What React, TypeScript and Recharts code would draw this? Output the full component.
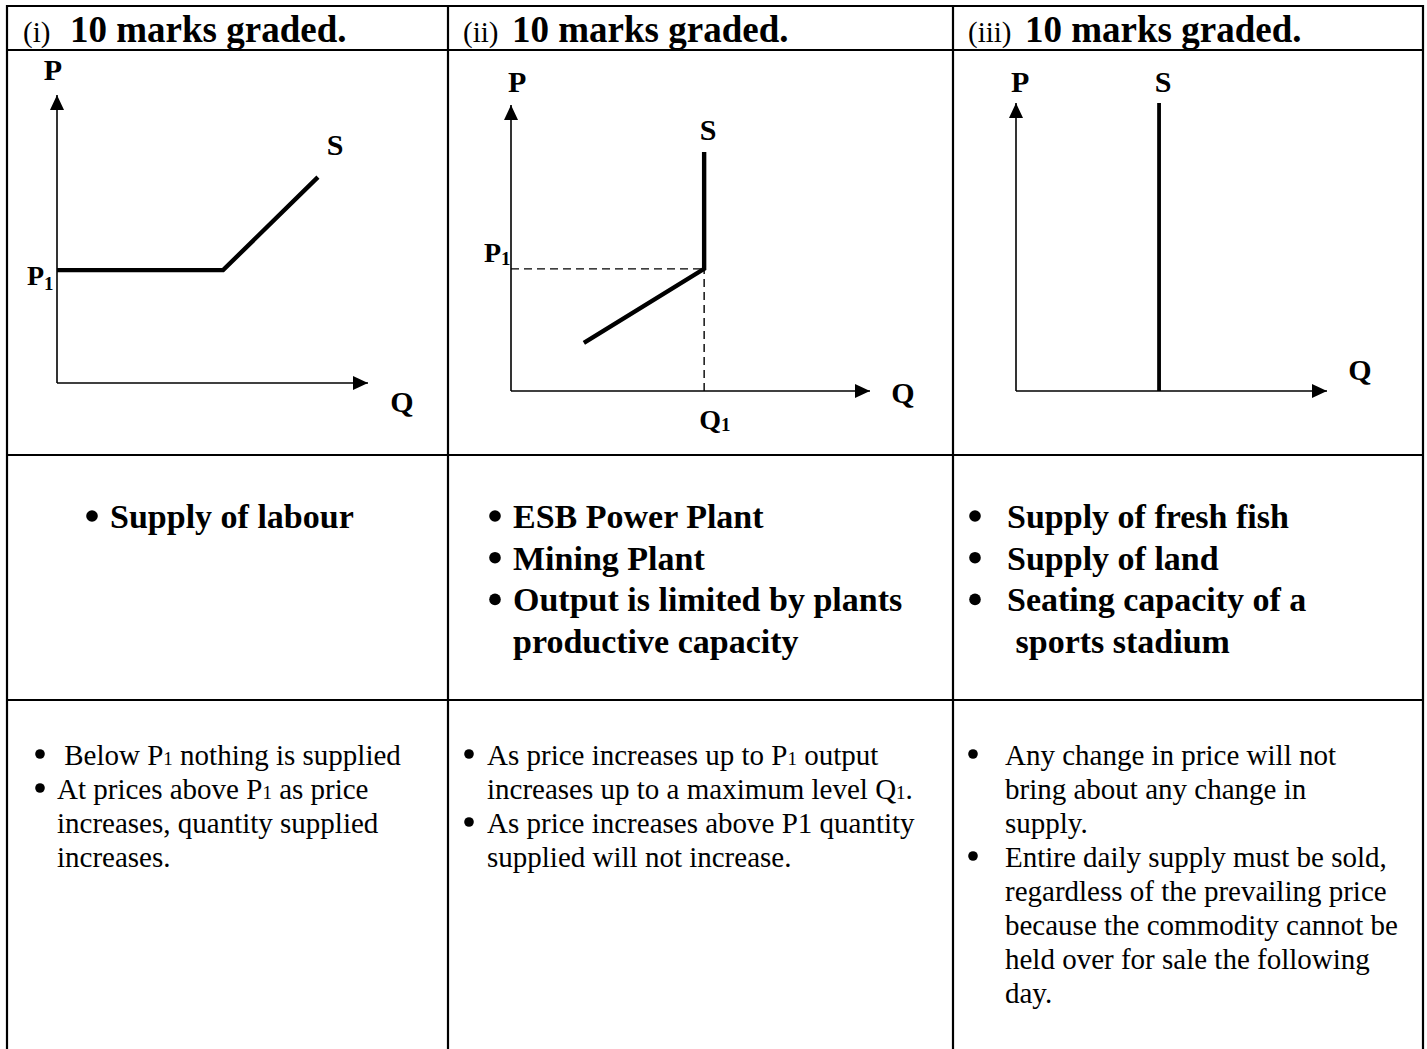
import React from 'react';
import { LineChart, Line, XAxis, YAxis, ReferenceDot } from 'recharts';

const FONT = '"Liberation Serif", "Times New Roman", Times, serif';

// header row
const headNums = ['(i)', '(ii)', '(iii)'];
const headText = '10 marks graded.';

// (i) supply of labour: flat at P1, then rising
const labourQ = [0, 53.4, 83.9];
const labourP = [39.2, 39.2, 71.5];
const labourP1 = 39.2;

// (ii) plant capacity: rising up to P1, vertical at Q1
const plantQ = [20.3, 53.8, 53.8];
const plantP = [16.8, 42.7, 83.6];
const plantQ1 = 53.8;
const plantP1 = 42.7;

// (iii) fixed supply
const fixedQ = [46, 46];
const fixedP = [0, 100];

// bold examples row, b = line starts with a bullet
const examples = [
  [{ b: true, t: 'Supply of labour' }],
  [
    { b: true, t: 'ESB Power Plant' },
    { b: true, t: 'Mining Plant' },
    { b: true, t: 'Output is limited by plants' },
    { b: false, t: 'productive capacity' },
  ],
  [
    { b: true, t: 'Supply of fresh fish' },
    { b: true, t: 'Supply of land' },
    { b: true, t: 'Seating capacity of a' },
    { b: false, t: ' sports stadium' },
  ],
];

// explanation row, {1} = small subscript digit
const notes = [
  [
    { b: true, t: ' Below P{1} nothing is supplied' },
    { b: true, t: 'At prices above P{1} as price' },
    { b: false, t: 'increases, quantity supplied' },
    { b: false, t: 'increases.' },
  ],
  [
    { b: true, t: 'As price increases up to P{1} output' },
    { b: false, t: 'increases up to a maximum level Q{1}.' },
    { b: true, t: 'As price increases above P1 quantity' },
    { b: false, t: 'supplied will not increase.' },
  ],
  [
    { b: true, t: 'Any change in price will not' },
    { b: false, t: 'bring about any change in' },
    { b: false, t: 'supply.' },
    { b: true, t: 'Entire daily supply must be sold,' },
    { b: false, t: 'regardless of the prevailing price' },
    { b: false, t: 'because the commodity cannot be' },
    { b: false, t: 'held over for sale the following' },
    { b: false, t: 'day.' },
  ],
];

const toPts = (qs: number[], ps: number[]) => qs.map((q, i) => ({ q, p: ps[i] }));

const rich = (s: string, small: number) =>
  s.split(/(\{\d\})/).map((part, i) =>
    part.startsWith('{') ? (
      <tspan key={i} fontSize={small}>{part[1]}</tspan>
    ) : (
      <tspan key={i}>{part}</tspan>
    )
  );

const ArrowX = (props: any) => {
  const { cx, cy } = props;
  return <polygon points={`${cx},${cy} ${cx - 15},${cy - 7} ${cx - 15},${cy + 7}`} fill="#000" />;
};

const ArrowY = (props: any) => {
  const { cx, cy } = props;
  return <polygon points={`${cx},${cy} ${cx - 7},${cy + 15} ${cx + 7},${cy + 15}`} fill="#000" />;
};

const labelShape = (label: string, size = 30) => (props: any) => (
  <text x={props.cx} y={props.cy} textAnchor="middle" fontFamily={FONT} fontWeight="bold" fontSize={size} fill="#000">
    {label}
  </text>
);

// P1 / Q1 tick with a subscript
const subTick = (base: string, dx: number, dy: number, size: number, subDy: number) => (props: any) => (
  <text x={props.x + dx} y={props.y + dy} fontFamily={FONT} fontWeight="bold" fontSize={size} fill="#000">
    <tspan>{base}</tspan>
    <tspan fontSize={Math.round(size * 0.68)} dy={subDy}>1</tspan>
  </text>
);

interface DiagramProps {
  left: number;
  top: number;
  width: number;
  height: number;
  margin: { top: number; right: number; bottom: number; left: number };
  children?: React.ReactNode;
  xTicks?: number[];
  xTick?: any;
  yTicks?: number[];
  yTick?: any;
}

// axes take 1px each (a 0px axis is not drawn), margins below are reduced by that
const Diagram = ({ left, top, width, height, margin, children, xTicks, xTick, yTicks, yTick }: DiagramProps) => (
  <div style={{ position: 'absolute', left, top }}>
    <LineChart
      width={width}
      height={height}
      margin={{ ...margin, left: margin.left - 1, bottom: margin.bottom - 1 }}
      style={{ overflow: 'visible' }}
    >
      <XAxis
        type="number"
        dataKey="q"
        domain={[0, 100]}
        allowDataOverflow
        height={1}
        axisLine={{ stroke: '#000', strokeWidth: 1.6 }}
        tickLine={false}
        tickSize={0}
        tickMargin={0}
        ticks={xTicks && xTicks.length ? xTicks : [0]}
        tick={xTick || false}
        interval={0}
      />
      <YAxis
        type="number"
        dataKey="p"
        domain={[0, 100]}
        allowDataOverflow
        width={1}
        axisLine={{ stroke: '#000', strokeWidth: 1.6 }}
        tickLine={false}
        tickSize={0}
        tickMargin={0}
        ticks={yTicks && yTicks.length ? yTicks : [0]}
        tick={yTick || false}
        interval={0}
      />
      <ReferenceDot x={100} y={0} r={0} shape={ArrowX} ifOverflow="visible" />
      <ReferenceDot x={0} y={100} r={0} shape={ArrowY} ifOverflow="visible" />
      {children}
    </LineChart>
  </div>
);

const hLines = [6, 50, 455, 700];
const vLines = [7, 448, 953, 1423];
const headX = [
  [23, 70],
  [463, 512],
  [968, 1025],
];
const exBullet = [92, 495, 975];
const exText = [110, 513, 1007];
const noteBullet = [40, 469, 973];
const noteText = [57, 487, 1005];

export default function App() {
  return (
    <div style={{ position: 'absolute', left: 0, top: 0, width: 1427, height: 1049, background: '#fff' }}>
      <svg width={1427} height={1049} style={{ position: 'absolute', left: 0, top: 0 }}>
        {hLines.map((y) => (
          <line key={`h${y}`} x1={6} x2={1424} y1={y} y2={y} stroke="#000" strokeWidth={2.2} />
        ))}
        {vLines.map((x) => (
          <line key={`v${x}`} x1={x} x2={x} y1={5} y2={1049} stroke="#000" strokeWidth={2.2} />
        ))}
        {headNums.map((n, i) => (
          <g key={n}>
            <text x={headX[i][0]} y={42} fontFamily={FONT} fontSize={29} fill="#000">{n}</text>
            <text x={headX[i][1]} y={42} fontFamily={FONT} fontSize={37} fontWeight="bold" fill="#000">{headText}</text>
          </g>
        ))}
        {examples.map((col, c) =>
          col.map((ln, j) => (
            <g key={`e${c}-${j}`}>
              {ln.b && <circle cx={exBullet[c]} cy={528 + j * 41.7 - 12} r={5.8} fill="#000" />}
              <text x={exText[c]} y={528 + j * 41.7} fontFamily={FONT} fontSize={34} fontWeight="bold" fill="#000" style={{ whiteSpace: 'pre' }}>
                {ln.t}
              </text>
            </g>
          ))
        )}
        {notes.map((col, c) =>
          col.map((ln, j) => (
            <g key={`n${c}-${j}`}>
              {ln.b && <circle cx={noteBullet[c]} cy={765 + j * 34 - 11} r={4.8} fill="#000" />}
              <text x={noteText[c]} y={765 + j * 34} fontFamily={FONT} fontSize={29} fill="#000" style={{ whiteSpace: 'pre' }}>
                {rich(ln.t, 19)}
              </text>
            </g>
          ))
        )}
      </svg>

      {/* (i) */}
      <Diagram
        left={8}
        top={51}
        width={439}
        height={403}
        margin={{ top: 44, right: 79, bottom: 71, left: 49 }}
        yTicks={[labourP1]}
        yTick={subTick('P', -30, 15, 28, 5)}
      >
        <Line data={toPts(labourQ, labourP)} dataKey="p" stroke="#000" strokeWidth={4.4} dot={false} activeDot={false} isAnimationActive={false} />
        <ReferenceDot x={-1.3} y={105.2} r={0} shape={labelShape('P')} ifOverflow="visible" />
        <ReferenceDot x={89.4} y={79.2} r={0} shape={labelShape('S')} ifOverflow="visible" />
        <ReferenceDot x={110.9} y={-10.1} r={0} shape={labelShape('Q')} ifOverflow="visible" />
      </Diagram>

      {/* (ii) */}
      <Diagram
        left={449}
        top={51}
        width={503}
        height={403}
        margin={{ top: 54, right: 82, bottom: 63, left: 62 }}
        xTicks={[plantQ1]}
        xTick={subTick('Q', -5, 38, 28, 2)}
        yTicks={[plantP1]}
        yTick={subTick('P', -27, -7, 28, 3)}
      >
        <Line data={toPts([0, plantQ1], [plantP1, plantP1])} dataKey="p" stroke="#000" strokeWidth={1.4} strokeDasharray="8 5" dot={false} activeDot={false} isAnimationActive={false} />
        <Line data={toPts([plantQ1, plantQ1], [0, plantP1])} dataKey="p" stroke="#000" strokeWidth={1.4} strokeDasharray="8 5" dot={false} activeDot={false} isAnimationActive={false} />
        <Line data={toPts(plantQ, plantP)} dataKey="p" stroke="#000" strokeWidth={4.4} dot={false} activeDot={false} isAnimationActive={false} />
        <ReferenceDot x={1.7} y={104.5} r={0} shape={labelShape('P')} ifOverflow="visible" />
        <ReferenceDot x={54.9} y={87.8} r={0} shape={labelShape('S')} ifOverflow="visible" />
        <ReferenceDot x={109.2} y={-4.2} r={0} shape={labelShape('Q')} ifOverflow="visible" />
      </Diagram>

      {/* (iii) */}
      <Diagram
        left={954}
        top={51}
        width={467}
        height={403}
        margin={{ top: 52, right: 94, bottom: 63, left: 62 }}
      >
        <Line data={toPts(fixedQ, fixedP)} dataKey="p" stroke="#000" strokeWidth={3.8} dot={false} activeDot={false} isAnimationActive={false} />
        <ReferenceDot x={1.3} y={103.8} r={0} shape={labelShape('P')} ifOverflow="visible" />
        <ReferenceDot x={47.3} y={103.8} r={0} shape={labelShape('S')} ifOverflow="visible" />
        <ReferenceDot x={110.6} y={3.8} r={0} shape={labelShape('Q')} ifOverflow="visible" />
      </Diagram>
    </div>
  );
}
